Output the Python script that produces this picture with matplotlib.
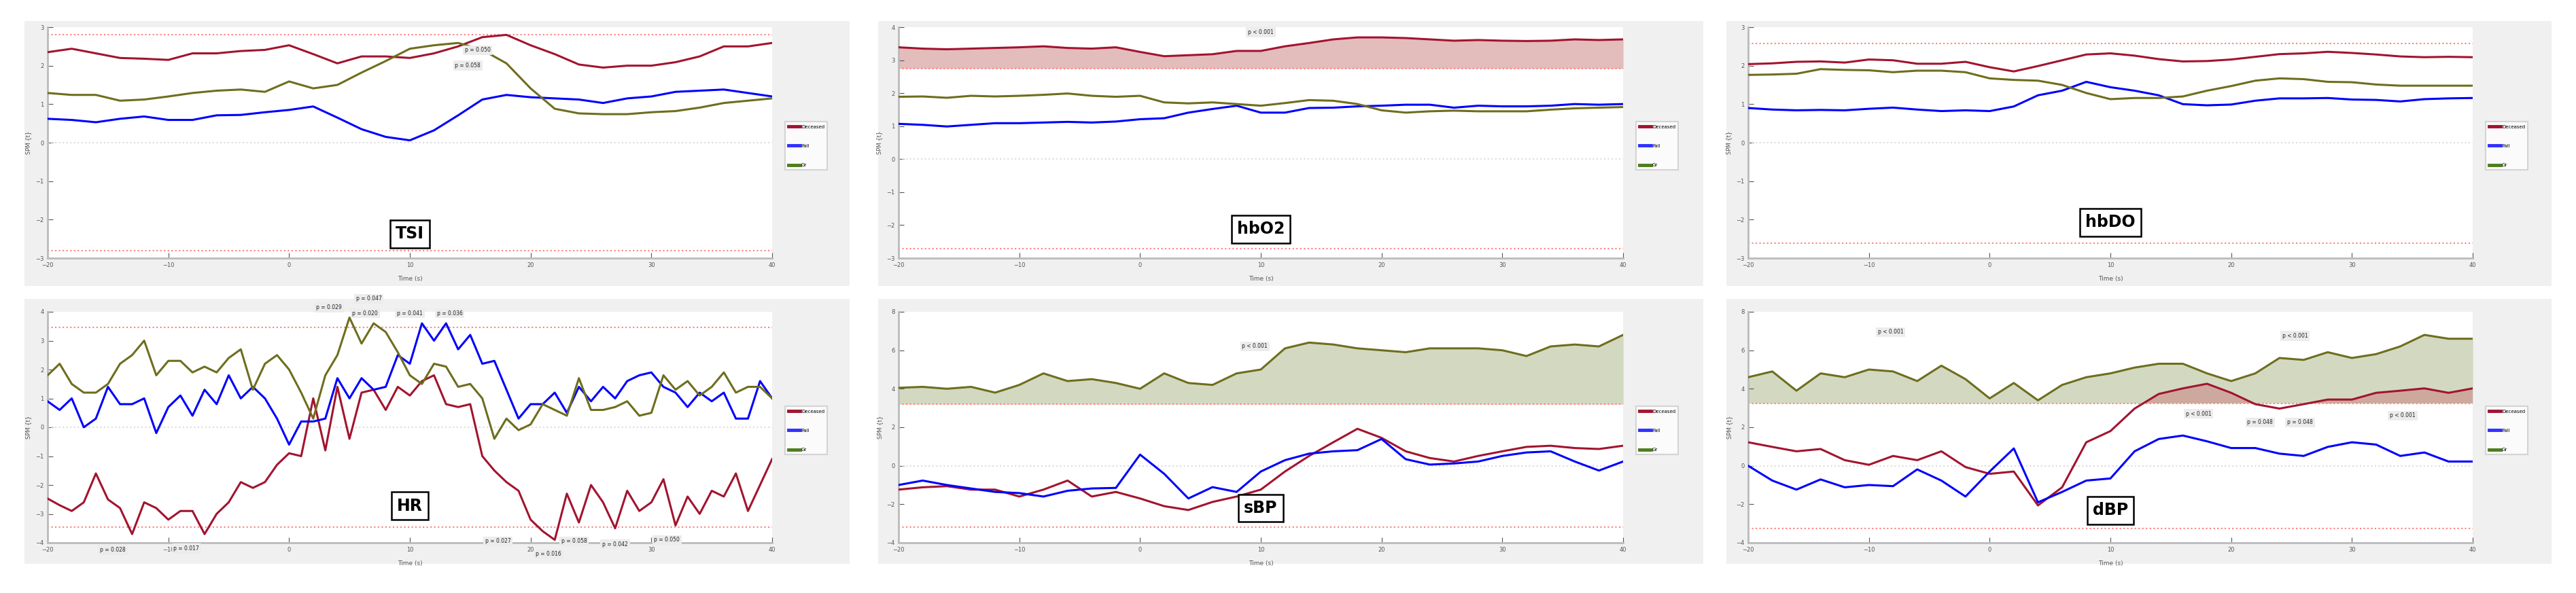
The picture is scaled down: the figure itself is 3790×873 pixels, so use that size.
import numpy as np
import matplotlib.pyplot as plt
from matplotlib.patches import Rectangle

# =========================
# DATA
# =========================
t2 = np.arange(-20, 41, 2)
t1 = np.arange(-20, 41, 1)
groups = ["Deceased", "Fall", "Gr"]

tsi_dec = [2.35, 2.44, 2.32, 2.2, 2.18, 2.15, 2.32, 2.32, 2.38, 2.41, 2.53, 2.3, 2.06, 2.24, 2.24, 2.2,
           2.32, 2.5, 2.74, 2.8, 2.53, 2.3, 2.03, 1.95, 2.0, 2.0, 2.09, 2.24, 2.5, 2.5, 2.59]
tsi_fall = [0.62, 0.59, 0.53, 0.62, 0.68, 0.59, 0.59, 0.71, 0.72, 0.79, 0.85, 0.94, 0.65, 0.35, 0.15, 0.06,
            0.32, 0.71, 1.12, 1.24, 1.18, 1.15, 1.12, 1.03, 1.15, 1.2, 1.32, 1.35, 1.38, 1.29, 1.2]
tsi_gr = [1.29, 1.24, 1.24, 1.09, 1.12, 1.2, 1.29, 1.35, 1.38, 1.32, 1.59, 1.41, 1.5, 1.82, 2.12, 2.44,
          2.53, 2.59, 2.41, 2.06, 1.41, 0.88, 0.76, 0.74, 0.74, 0.79, 0.82, 0.91, 1.03, 1.09, 1.15]

hbo2_dec = [3.39, 3.35, 3.33, 3.35, 3.37, 3.39, 3.42, 3.37, 3.35, 3.39, 3.25, 3.12, 3.15, 3.18, 3.28, 3.28,
            3.42, 3.52, 3.63, 3.69, 3.69, 3.67, 3.63, 3.59, 3.61, 3.59, 3.58, 3.59, 3.63, 3.61, 3.63]
hbo2_fall = [1.07, 1.04, 0.99, 1.04, 1.09, 1.09, 1.11, 1.13, 1.11, 1.14, 1.21, 1.24, 1.41, 1.52, 1.62, 1.41,
             1.41, 1.55, 1.56, 1.6, 1.62, 1.65, 1.65, 1.56, 1.62, 1.6, 1.6, 1.62, 1.67, 1.65, 1.67]
hbo2_gr = [1.89, 1.9, 1.86, 1.92, 1.9, 1.92, 1.95, 1.99, 1.92, 1.89, 1.92, 1.72, 1.69, 1.72, 1.67, 1.62,
           1.7, 1.79, 1.77, 1.67, 1.48, 1.41, 1.45, 1.47, 1.45, 1.45, 1.45, 1.5, 1.54, 1.56, 1.58]

hbdo_dec = [2.04, 2.06, 2.1, 2.11, 2.08, 2.16, 2.14, 2.05, 2.05, 2.1, 1.96, 1.85, 1.99, 2.14, 2.29, 2.32,
            2.26, 2.17, 2.11, 2.12, 2.16, 2.23, 2.3, 2.32, 2.36, 2.33, 2.29, 2.24, 2.22, 2.23, 2.22]
hbdo_fall = [0.9, 0.86, 0.84, 0.85, 0.84, 0.88, 0.91, 0.86, 0.82, 0.84, 0.82, 0.94, 1.23, 1.35, 1.58, 1.44,
             1.35, 1.23, 1.0, 0.97, 0.99, 1.09, 1.15, 1.15, 1.16, 1.12, 1.11, 1.07, 1.13, 1.15, 1.16]
hbdo_gr = [1.76, 1.77, 1.79, 1.91, 1.89, 1.88, 1.83, 1.87, 1.87, 1.83, 1.67, 1.63, 1.61, 1.5, 1.29, 1.13,
           1.16, 1.16, 1.2, 1.35, 1.47, 1.61, 1.67, 1.65, 1.58, 1.57, 1.51, 1.48, 1.48, 1.48, 1.48]

hr_dec = [-2.47, -2.7, -2.9, -2.6, -1.6, -2.5, -2.8, -3.7, -2.6, -2.8, -3.2, -2.9, -2.9, -3.7, -3.0, -2.6,
          -1.9, -2.1, -1.9, -1.3, -0.9, -1.0, 1.0, -0.8, 1.4, -0.4, 1.2, 1.3, 0.6, 1.4, 1.1, 1.6, 1.8, 0.8,
          0.7, 0.8, -1.0, -1.5, -1.9, -2.2, -3.2, -3.6, -3.9, -2.3, -3.3, -2.0, -2.6, -3.5, -2.2, -2.9, -2.6,
          -1.8, -3.4, -2.4, -3.0, -2.2, -2.4, -1.6, -2.9, -2.0, -1.1]
hr_fall = [0.9, 0.6, 1.0, 0.0, 0.3, 1.4, 0.8, 0.8, 1.0, -0.2, 0.7, 1.1, 0.4, 1.3, 0.8, 1.8, 1.0, 1.4, 1.0,
           0.3, -0.6, 0.2, 0.2, 0.3, 1.7, 1.0, 1.7, 1.3, 1.4, 2.5, 2.2, 3.6, 3.0, 3.6, 2.7, 3.2, 2.2, 2.3,
           1.3, 0.3, 0.8, 0.8, 1.2, 0.5, 1.4, 0.9, 1.4, 1.0, 1.6, 1.8, 1.9, 1.4, 1.2, 0.7, 1.2, 0.9, 1.2,
           0.3, 0.3, 1.6, 1.0]
hr_gr = [1.8, 2.2, 1.5, 1.2, 1.2, 1.5, 2.2, 2.5, 3.0, 1.8, 2.3, 2.3, 1.9, 2.1, 1.9, 2.4, 2.7, 1.3, 2.2,
         2.5, 2.0, 1.2, 0.3, 1.8, 2.5, 3.8, 2.9, 3.6, 3.3, 2.6, 1.8, 1.5, 2.2, 2.1, 1.4, 1.5, 1.0, -0.4,
         0.3, -0.1, 0.1, 0.8, 0.6, 0.4, 1.7, 0.6, 0.6, 0.7, 0.9, 0.4, 0.5, 1.8, 1.3, 1.6, 1.1, 1.4, 1.9,
         1.2, 1.4, 1.4, 1.0]

sbp_dec = [-1.24, -1.12, -1.06, -1.24, -1.24, -1.6, -1.24, -0.77, -1.6, -1.36, -1.7, -2.1, -2.3, -1.88,
           -1.6, -1.24, -0.3, 0.51, 1.22, 1.92, 1.45, 0.75, 0.4, 0.22, 0.51, 0.75, 0.98, 1.04, 0.92, 0.87, 1.04]
sbp_fall = [-1.0, -0.77, -1.0, -1.18, -1.36, -1.42, -1.6, -1.3, -1.18, -1.15, 0.58, -0.42, -1.7, -1.11,
            -1.36, -0.3, 0.29, 0.63, 0.75, 0.81, 1.39, 0.34, 0.06, 0.12, 0.22, 0.51, 0.69, 0.75, 0.22, -0.25, 0.22]
sbp_gr = [4.05, 4.1, 4.0, 4.1, 3.8, 4.2, 4.8, 4.4, 4.5, 4.3, 4.0, 4.8, 4.3, 4.2, 4.8, 5.0, 6.1, 6.4, 6.3,
          6.1, 6.0, 5.9, 6.1, 6.1, 6.1, 6.0, 5.7, 6.2, 6.3, 6.2, 6.8]

dbp_dec = [1.22, 0.98, 0.75, 0.87, 0.29, 0.05, 0.51, 0.29, 0.75, -0.07, -0.42, -0.3, -2.06, -1.12, 1.22,
           1.8, 2.97, 3.73, 4.02, 4.26, 3.79, 3.2, 2.97, 3.2, 3.44, 3.44, 3.79, 3.9, 4.02, 3.79, 4.02]
dbp_fall = [0.0, -0.77, -1.24, -0.71, -1.12, -1.0, -1.06, -0.19, -0.77, -1.6, -0.3, 0.9, -1.9, -1.36,
            -0.77, -0.66, 0.75, 1.39, 1.57, 1.27, 0.92, 0.92, 0.63, 0.51, 0.98, 1.22, 1.1, 0.51, 0.69, 0.22, 0.22]
dbp_gr = [4.6, 4.9, 3.9, 4.8, 4.6, 5.0, 4.9, 4.4, 5.2, 4.5, 3.5, 4.3, 3.4, 4.2, 4.6, 4.8, 5.1, 5.3, 5.3,
          4.8, 4.4, 4.8, 5.6, 5.5, 5.9, 5.6, 5.8, 6.2, 6.8, 6.6, 6.6]

# =========================
# STYLE
# =========================
C_DEC = "#a2142f"
C_FALL = "#0000ff"
C_GR = "#6e6e1e"
LEG_COLORS = ["#a2142f", "#3030ff", "#4f7d1c"]

W, H = 3791, 873
fig = plt.figure(figsize=(W / 100, H / 100), dpi=100)

col_left = [70, 1322, 2572]
col_bg = [36, 1292, 2540]
row_top = [40, 459]
row_bg = [31, 440]
AX_W, AX_H = 1066, 340
BG_W, BG_H = 1214, 390

# gray panel backgrounds first, behind everything
for r in range(2):
    for c in range(3):
        fig.patches.append(Rectangle((col_bg[c] / W, 1 - (row_bg[r] + BG_H) / H), BG_W / W, BG_H / H,
                                     transform=fig.transFigure, facecolor="#f0f0f0",
                                     edgecolor="none", zorder=-10))


def px_axes(x, y, w, h):
    return fig.add_axes([x / W, 1 - (y + h) / H, w / W, h / H])


def pbox(ax, x, y, s, fs=5.5):
    ax.text(x, y, s, fontsize=fs, ha="center", va="center", color="#222222", clip_on=False,
            bbox=dict(facecolor="#ececec", edgecolor="none", pad=2), zorder=6)


def panel(r, c, t, dec, fall, gr, ylim, yticks, thr, label, lab_y, fill=None):
    ax = px_axes(col_left[c], row_top[r], AX_W, AX_H)
    ax.set_facecolor("white")
    ax.set_xlim(-20, 40)
    ax.set_ylim(*ylim)
    ax.set_xticks(np.arange(-20, 41, 10))
    ax.set_yticks(yticks)
    ax.tick_params(labelsize=6, direction="in", length=6, colors="#555555", pad=4)
    for s in ["top", "right"]:
        ax.spines[s].set_visible(False)
    for s in ["left", "bottom"]:
        ax.spines[s].set_color("#bbbbbb")
        ax.spines[s].set_linewidth(2)
    ax.set_xlabel("Time (s)", fontsize=6.5, color="#555555", labelpad=8)
    ax.set_ylabel("SPM {t}", fontsize=6, color="#555555")

    ax.axhline(0, color="#dddddd", lw=1.5, ls=":")
    ax.axhline(thr[0], color="#ff8080", lw=1.5, ls=":")
    ax.axhline(thr[1], color="#ff8080", lw=1.5, ls=":")

    if fill is not None:
        for key in fill:
            y = np.array({"dec": dec, "gr": gr}[key])
            col = {"dec": "#c97a7a", "gr": "#a8b485"}[key]
            ax.fill_between(t, thr[0], y, where=y > thr[0], interpolate=True,
                            color=col, alpha=0.5, lw=0, zorder=1)

    ax.plot(t, dec, color=C_DEC, lw=2.2, zorder=3)
    ax.plot(t, fall, color=C_FALL, lw=2.2, zorder=3)
    ax.plot(t, gr, color=C_GR, lw=2.2, zorder=3)

    handles = [plt.Line2D([], [], color=cc, lw=3.5) for cc in LEG_COLORS]
    leg = ax.legend(handles, groups, loc="upper left", bbox_to_anchor=(1.015, 0.6), fontsize=5,
                    frameon=True, fancybox=False, labelspacing=3.2, handlelength=2.5,
                    handletextpad=0.3, borderpad=0.6)
    leg.get_frame().set_edgecolor("#cccccc")
    leg.get_frame().set_linewidth(1.5)

    ax.text(0.5, lab_y, label, transform=ax.transAxes, fontsize=17, fontweight="bold",
            ha="center", va="center", zorder=7,
            bbox=dict(facecolor="white", edgecolor="black", lw=1.8, boxstyle="square,pad=0.35"))
    return ax


ax = panel(0, 0, t2, tsi_dec, tsi_fall, tsi_gr, (-3, 3), np.arange(-3, 4), (2.8, -2.8), "TSI", 0.105)
pbox(ax, 15.6, 2.4, "p = 0.050")
pbox(ax, 14.8, 2.0, "p = 0.058")

ax = panel(0, 1, t2, hbo2_dec, hbo2_fall, hbo2_gr, (-3, 4), np.arange(-3, 5), (2.75, -2.72), "hbO2", 0.125,
           fill=["dec"])
pbox(ax, 10, 3.85, "p < 0.001")

ax = panel(0, 2, t2, hbdo_dec, hbdo_fall, hbdo_gr, (-3, 3), np.arange(-3, 4), (2.58, -2.62), "hbDO", 0.155)

ax = panel(1, 0, t1, hr_dec, hr_fall, hr_gr, (-4, 4), np.arange(-4, 5), (3.45, -3.45), "HR", 0.16)
for x, y, s in [(3.3, 4.15, "p = 0.029"), (6.6, 4.45, "p = 0.047"), (6.3, 3.95, "p = 0.020"),
                (10, 3.95, "p = 0.041"), (13.3, 3.95, "p = 0.036"), (-14.6, -4.25, "p = 0.028"),
                (-8.5, -4.2, "p = 0.017"), (17.3, -3.95, "p = 0.027"), (23.6, -3.95, "p = 0.058"),
                (27, -4.05, "p = 0.042"), (31.3, -3.9, "p = 0.050"), (21.5, -4.4, "p = 0.016")]:
    pbox(ax, x, y, s)

ax = panel(1, 1, t2, sbp_dec, sbp_fall, sbp_gr, (-4, 8), np.arange(-4, 9, 2), (3.2, -3.2), "sBP", 0.15,
           fill=["gr"])
pbox(ax, 9.5, 6.2, "p < 0.001")

ax = panel(1, 2, t2, dbp_dec, dbp_fall, dbp_gr, (-4, 8), np.arange(-4, 9, 2), (3.25, -3.25), "dBP", 0.14,
           fill=["gr", "dec"])
for x, y, s in [(-8.2, 6.95, "p < 0.001"), (25.3, 6.75, "p < 0.001"), (17.3, 2.7, "p < 0.001"),
                (22.4, 2.25, "p = 0.048"), (25.7, 2.25, "p = 0.048"), (34.2, 2.6, "p < 0.001")]:
    pbox(ax, x, y, s)

fig.savefig("out.png", dpi=100, facecolor="white")
